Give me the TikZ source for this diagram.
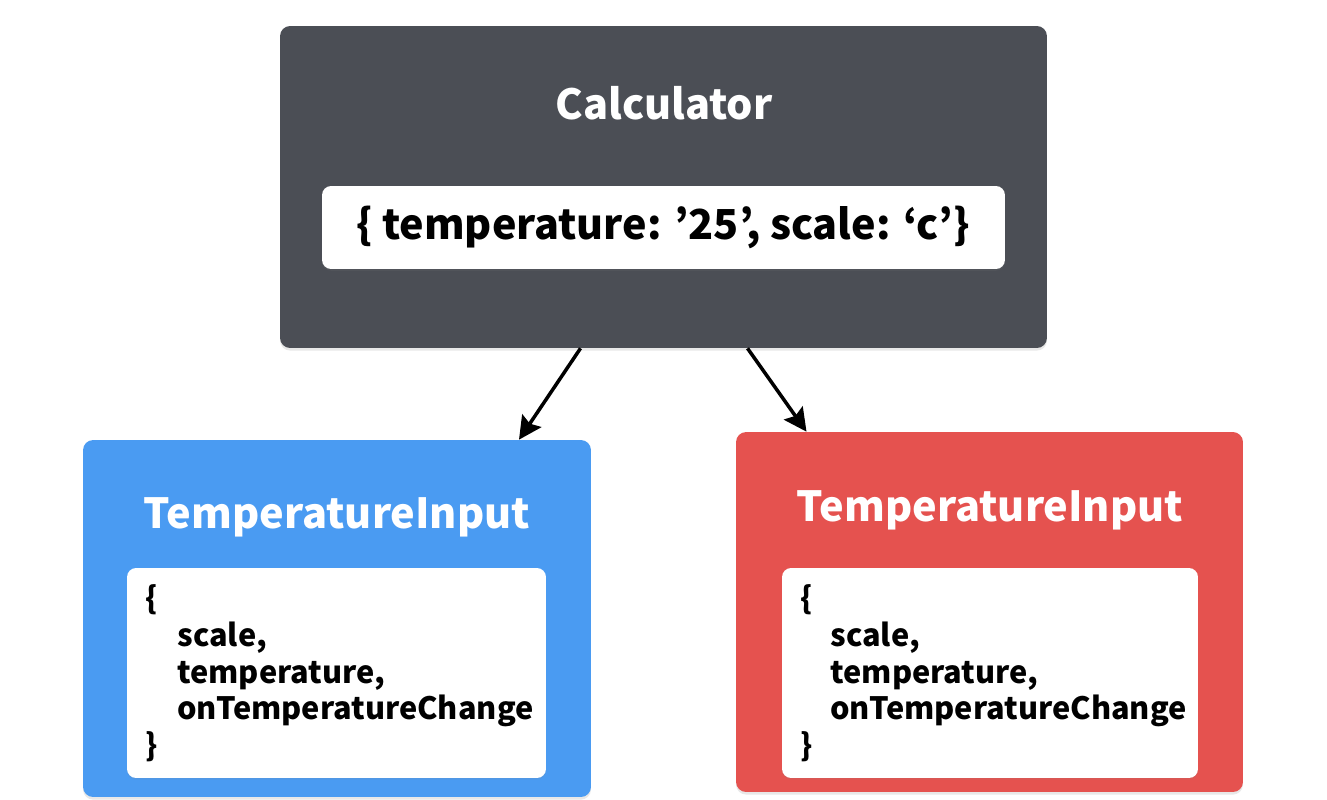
\documentclass[tikz,border=0pt]{standalone}
\usepackage{fontspec}
\setmainfont{Noto Sans CJK KR}
\usetikzlibrary{arrows.meta,calc,shadows}

\definecolor{calcgray}{HTML}{4B4E55}
\definecolor{inputblue}{HTML}{4A9BF2}
\definecolor{inputred}{HTML}{E5524F}

\tikzset{
  compbox/.style={rounded corners=0.2cm, inner sep=0pt,
    drop shadow={opacity=0.18, shadow xshift=0pt, shadow yshift=-1.5pt}},
  statebox/.style={fill=white, rounded corners=0.18cm, inner sep=0pt,
    drop shadow={opacity=0.12, shadow xshift=0pt, shadow yshift=-1pt}},
  title/.style={text=white, font=\bfseries\fontsize{23.6}{26}\selectfont},
  code/.style={font=\bfseries\fontsize{17.5}{21}\selectfont, align=left,
    anchor=north west, inner sep=0pt},
  flow/.style={-{Stealth[length=13pt,width=13pt,inset=2pt]}, line width=2pt}
}

\begin{document}
\begin{tikzpicture}[x=0.02cm, y=0.02cm]
\useasboundingbox (0,0) rectangle (1327,799);

% Parent component
\node[compbox, fill=calcgray, minimum width=15.34cm, minimum height=6.44cm] (calc) at (663.5,612) {};
\node[title] (calctitle) at (664,696) {Calculator};
\node[statebox, minimum width=13.66cm, minimum height=1.66cm] (state) at (663.5,571.5) {};
\node[font=\bfseries\fontsize{23.5}{26}\selectfont] (statetext) at (663,572) {\{ temperature: ’25’, scale: ‘c’\}};

% Celsius input (left)
\node[compbox, fill=inputblue, minimum width=10.16cm, minimum height=7.14cm] (blue) at (337,180.5) {};
\node[title] (bluetitle) at (337,282) {TemperatureInput};
\node[statebox, minimum width=8.38cm, minimum height=4.2cm] (bluestate) at (336.5,126) {};
\node[code] (bluecode) at (145,215) {\{\\\hspace*{0.64cm}scale,\\\hspace*{0.64cm}temperature,\\\hspace*{0.64cm}onTemperatureChange\\\}};

% Fahrenheit input (right)
\node[compbox, fill=inputred, minimum width=10.14cm, minimum height=7.2cm] (red) at (989.5,187) {};
\node[title] (redtitle) at (990,289) {TemperatureInput};
\node[statebox, minimum width=8.32cm, minimum height=4.2cm] (redstate) at (990,126) {};
\node[code] (redcode) at (800,215) {\{\\\hspace*{0.6cm}scale,\\\hspace*{0.6cm}temperature,\\\hspace*{0.6cm}onTemperatureChange\\\}};

% Props flow down
\draw[flow] ($(calc.south)+(-83,0)$) -- ($(blue.north)+(182,0)$);
\draw[flow] ($(calc.south)+(84,0)$) -- ($(red.north)+(-183,0)$);

\end{tikzpicture}
\end{document}
